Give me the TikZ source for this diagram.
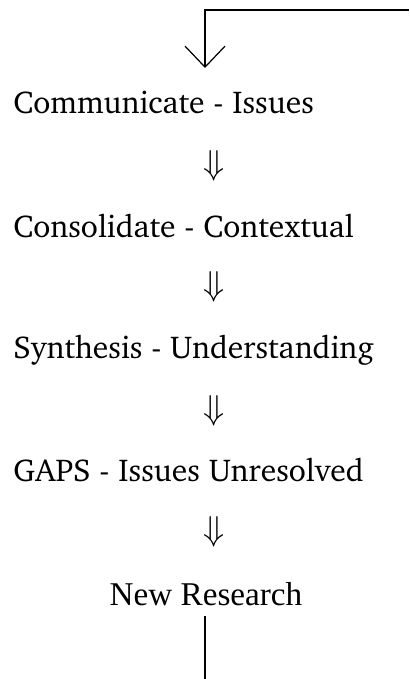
\documentclass[tikz,border=0pt]{standalone}
\usepackage[T1,TU]{fontenc}
\usepackage{fontspec}
\usepackage{amssymb}
\usepackage{amsmath}
\usepackage{tikz}
\usetikzlibrary{arrows.meta}
\newfontfamily\timesfont{Liberation Serif}
\newcommand{\charterfont}{\fontencoding{T1}\fontfamily{bch}\selectfont}
\tikzset{
  step label/.style={anchor=base west, inner sep=0pt, font=\charterfont\fontsize{15.8}{18}\selectfont},
  step arrow/.style={inner sep=0pt, font=\fontsize{16.5}{18}\selectfont},
  loop line/.style={line width=0.6pt}
}

\begin{document}
\begin{tikzpicture}[x=0.5pt, y=-0.5pt]
\useasboundingbox (0,0) rectangle (409,679);

%% etapes
\node[step label] (comm) at (13,114) {Communicate - Issues};
\node[step label] (cons) at (13,237) {Consolidate - Contextual};
\node[step label] (synt) at (13,358) {Synthesis - Understanding};
\node[step label] (gaps) at (13,481) {GAPS - Issues Unresolved};
\node[anchor=base, inner sep=0pt, font=\timesfont\fontsize{16.6}{18}\selectfont] (nres) at (206,605) {New Research};

%% fleches doubles
\node[step arrow] (a1) at (214,166) {$\Downarrow$};
\node[step arrow] (a2) at (214,287) {$\Downarrow$};
\node[step arrow] (a3) at (214,411) {$\Downarrow$};
\node[step arrow] (a4) at (214,532) {$\Downarrow$};

%% boucle de retour
\coordinate (top right) at (409,10);
\coordinate (top corner) at (205,10);
\coordinate (top end) at (205,68);
\coordinate (bottom end) at (205,679);
\draw[loop line, -{Straight Barb[length=10.5pt, width=20pt]}] (top right) -- (top corner) -- (top end);
\draw[loop line] ([yshift=-5pt]nres.south -| bottom end) -- (bottom end);
\end{tikzpicture}
\end{document}
